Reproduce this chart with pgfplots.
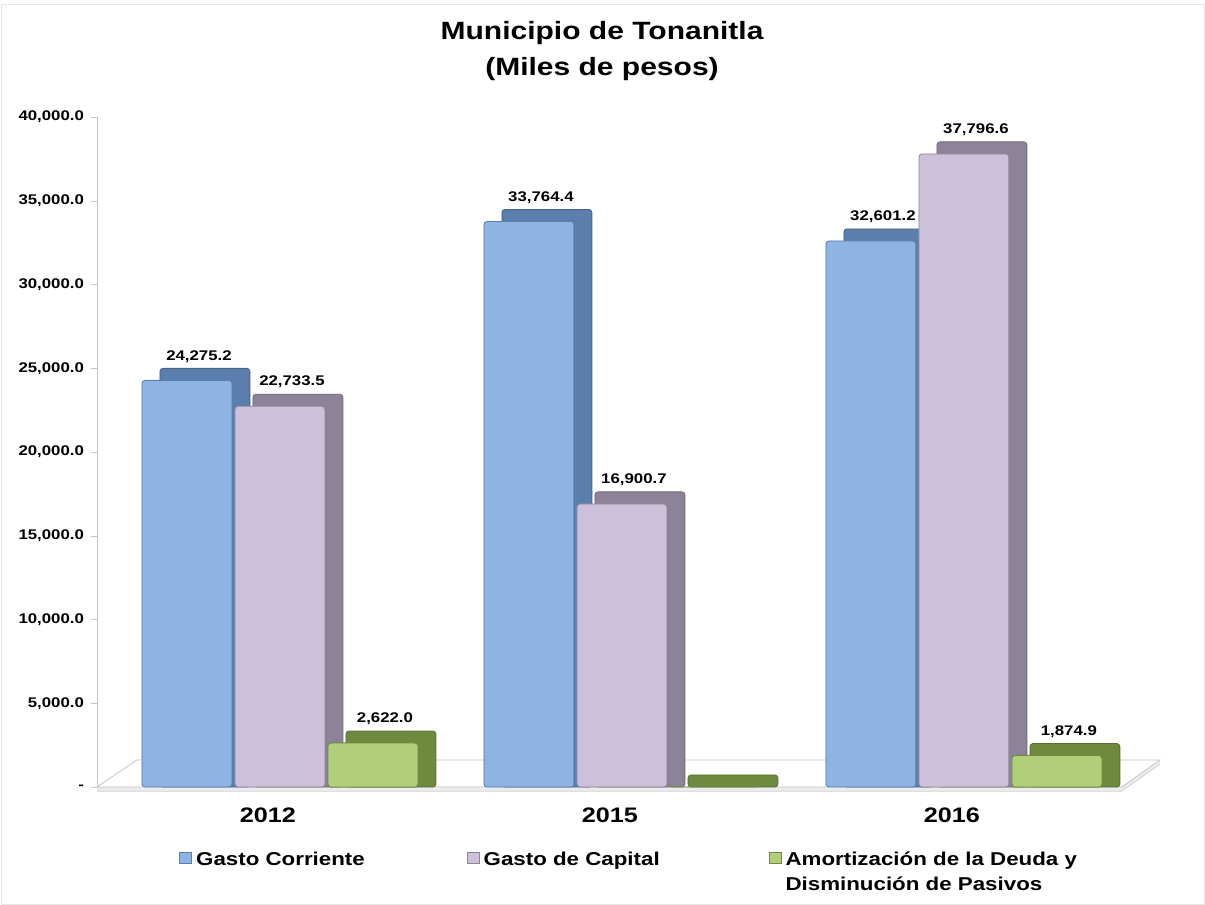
\documentclass[border=0pt]{standalone}
\usepackage{pgfplots}
\pgfplotsset{compat=1.18}
\usepackage{pgfplotstable}
\usepackage{fontspec}
\setmainfont{Liberation Sans}[FakeStretch=1.2]
\definecolor{gcF}{HTML}{8DB4E2}
\definecolor{gcS}{HTML}{5B7EAD}
\definecolor{gkF}{HTML}{CCC0DA}
\definecolor{gkS}{HTML}{8D8398}
\definecolor{amF}{HTML}{B1CF79}
\definecolor{amS}{HTML}{6E8A3E}
\pgfplotstableread{
x gc gk am
0 24275.2 22733.5 2622.0
1 33764.4 16900.7 0
2 32601.2 37796.6 1874.9
}\datatable
\pgfplotstableread{
x am
0 2622.0
2 1874.9
}\amlab
\begin{document}
\begin{tikzpicture}
\useasboundingbox (0,0) rectangle (602.5pt,452.5pt);
\fill[white] (0,0) rectangle (602.5pt,452.5pt);
\draw[gray!20] (0.5pt,0.5pt) rectangle (602pt,450.5pt);
\node[font=\bfseries\fontsize{12.5}{18}\selectfont, align=center] at (301pt,427pt) {Municipio de Tonanitla\\(Miles de pesos)};
\begin{axis}[
  at={(48.5pt,59pt)}, anchor=south west,
  scale only axis, width=527.5pt, height=335pt,
  xmin=-0.535, xmax=2.55, ymin=0, ymax=40000,
  clip=false,
  scaled y ticks=false,
  axis y line*=left, axis x line*=bottom,
  x axis line style={draw=none},
  y axis line style={draw=gray!45},
  xtick={0,1,2}, xticklabels={2012,2015,2016},
  xtick style={draw=none},
  xticklabel style={font=\bfseries\fontsize{10.5}{12}\selectfont, xshift=-6pt, yshift=-4pt},
  ytick={0,5000,10000,15000,20000,25000,30000,35000,40000},
  yticklabels={{-},{5,000.0},{10,000.0},{15,000.0},{20,000.0},{25,000.0},{30,000.0},{35,000.0},{40,000.0}},
  yticklabel style={font=\bfseries\fontsize{7}{8}\selectfont},
  ytick style={draw=gray!45},
  major tick length=3pt,
  tick align=outside,
  /pgf/number format/.cd, fixed, fixed zerofill, precision=1, 1000 sep={,}, assume math mode=true,
  /pgfplots/.cd,
  nodes near coords style={font=\bfseries\fontsize{7}{8}\selectfont, yshift=5.5pt, text=black},
  legend columns=3,
  legend style={at={(0.072,-0.078)}, anchor=north west, draw=none, fill=none,
    font=\bfseries\fontsize{9.3}{12.5}\selectfont, cells={anchor=base west},
    /tikz/column 2/.style={column sep=49pt},
    /tikz/column 4/.style={column sep=52.5pt}},
]
% floor
\fill[gray!15] (axis cs:-0.535,-250) -- (axis cs:2.462,-250) -- (axis cs:2.573,1365) -- (axis cs:2.573,1615) -- (axis cs:2.462,0) -- (axis cs:-0.535,0) -- cycle;
\draw[gray!45, fill=white] (axis cs:-0.535,0) -- (axis cs:-0.418,1615) -- (axis cs:2.573,1615) -- (axis cs:2.462,0) -- cycle;
\draw[gray!35] (axis cs:-0.535,-250) -- (axis cs:2.462,-250) -- (axis cs:2.573,1365);
% Gasto Corriente: depth face, then front face
\addplot[ybar, forget plot, bar width=0.263, bar shift=-0.2194, fill=gcS, draw=gcS!80!black, rounded corners=1.5pt] table[x=x, y expr=\thisrow{gc}+718] {\datatable};
\addplot[ybar, forget plot, bar width=0.263, bar shift=-0.272, fill=gcF, draw=gcS, rounded corners=1.5pt, nodes near coords, every node near coord/.append style={xshift=-40.5pt, rounded corners=0pt}] table[x=x, y=gc] {\datatable};
% Gasto de Capital
\addplot[ybar, forget plot, bar width=0.263, bar shift=0.0526, fill=gkS, draw=gkS!80!black, rounded corners=1.5pt] table[x=x, y expr=\thisrow{gk}+718] {\datatable};
\addplot[ybar, forget plot, bar width=0.263, bar shift=0, fill=gkF, draw=gkS, rounded corners=1.5pt, nodes near coords, every node near coord/.append style={xshift=6pt, rounded corners=0pt}] table[x=x, y=gk] {\datatable};
% Amortizacion
\addplot[ybar, forget plot, bar width=0.263, bar shift=0.3246, fill=amS, draw=amS!80!black, rounded corners=1.5pt] table[x=x, y expr=\thisrow{am}+718] {\datatable};
\addplot[ybar, forget plot, bar width=0.263, bar shift=0.272, fill=amF, draw=amS, rounded corners=1.5pt] table[x=x, y=am] {\datatable};
\addplot[ybar, forget plot, bar width=0.263, bar shift=0.272, fill=amF, draw=amS, rounded corners=1.5pt, nodes near coords, every node near coord/.append style={xshift=52.5pt, rounded corners=0pt}] table[x=x, y=am] {\amlab};
\addlegendimage{legend image code/.code={\draw[fill=gcF, draw=gcS] (0pt,0.75pt) rectangle (6pt,6.25pt);}}
\addlegendimage{legend image code/.code={\draw[fill=gkF, draw=gkS] (0pt,0.75pt) rectangle (6pt,6.25pt);}}
\addlegendimage{legend image code/.code={\draw[fill=amF, draw=amS] (0pt,0.75pt) rectangle (6pt,6.25pt);}}
\legend{Gasto Corriente, Gasto de Capital, {\begin{tabular}[t]{@{}l@{}}Amortización de la Deuda y\\Disminución de Pasivos\end{tabular}}}
\end{axis}
\end{tikzpicture}
\end{document}
